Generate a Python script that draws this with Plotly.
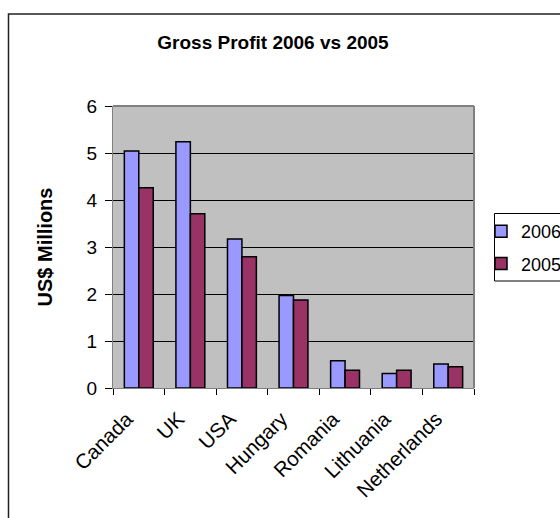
import plotly.graph_objects as go

countries = ["Canada", "UK", "USA", "Hungary", "Romania", "Lithuania", "Netherlands"]
profit_2006 = [5.04, 5.24, 3.17, 1.97, 0.58, 0.31, 0.51]
profit_2005 = [4.26, 3.71, 2.79, 1.87, 0.38, 0.38, 0.45]
y_ticks = [0, 1, 2, 3, 4, 5, 6]

W, H = 560, 518
L, R, T, B = 113, 474, 106, 388  # plot area in pixels
pw, ph = R - L, B - T


def px_x(x):
    return (x - L) / pw


def px_y(y):
    return (B - y) / ph


font = dict(family="Liberation Sans, Arial, sans-serif", color="black")

fig = go.Figure()
fig.add_trace(go.Bar(
    name="2006", x=countries, y=profit_2006, legendgroup="a",
    marker=dict(color="#9999FF", line=dict(color="black", width=1.5)),
))
fig.add_trace(go.Bar(
    name="2005", x=countries, y=profit_2005, legendgroup="b",
    marker=dict(color="#993366", line=dict(color="black", width=1.5)),
))

fig.update_layout(
    width=W, height=H,
    margin=dict(l=L, r=W - R, t=T, b=H - B, pad=0, autoexpand=False),
    paper_bgcolor="white",
    plot_bgcolor="#C0C0C0",
    barmode="group",
    bargap=0.44,
    bargroupgap=0,
    font=dict(size=19, **font),
    title=dict(
        text="<b>Gross Profit 2006 vs 2005</b>",
        x=px_x(273), xref="paper", xanchor="center",
        y=1 - 42 / H, yref="container", yanchor="middle",
        font=dict(size=19, **font),
    ),
    legend=dict(
        x=px_x(481), y=px_y(213), xanchor="left", yanchor="top",
        bgcolor="rgba(0,0,0,0)", borderwidth=0,
        font=dict(size=18, **font),
        tracegroupgap=6,
    ),
    showlegend=True,
)

fig.update_xaxes(
    type="category",
    tickson="boundaries",
    ticks="outside", ticklen=6, tickcolor="black", tickwidth=1,
    tickangle=-45,
    ticklabelshift=-12, ticklabelstandoff=10,
    showline=True, linecolor="#808080", linewidth=1,
    showgrid=False,
    tickfont=dict(size=20.5, **font),
)
fig.update_yaxes(
    range=[0, 6],
    tickvals=y_ticks,
    ticks="outside", ticklen=7, tickcolor="black", tickwidth=1,
    ticklabelstandoff=4,
    showline=True, linecolor="#808080", linewidth=1,
    showgrid=True, gridcolor="black", gridwidth=1,
    zeroline=False,
    tickfont=dict(size=19, **font),
    title=dict(text="<b>US$ Millions</b>", font=dict(size=20, **font), standoff=28),
)

# gray plot-area frame (top and right edges)
fig.add_shape(type="line", xref="paper", yref="paper",
              x0=0, x1=1, y0=1, y1=1, line=dict(color="#808080", width=2))
fig.add_shape(type="line", xref="paper", yref="paper",
              x0=1, x1=1, y0=0, y1=1, line=dict(color="#808080", width=2))

# legend frame
fig.add_shape(type="rect", xref="paper", yref="paper",
              x0=px_x(494.5), x1=px_x(600), y0=px_y(281), y1=px_y(213.5),
              line=dict(color="black", width=1), fillcolor="white", layer="below")

# outer chart border
fig.add_shape(type="rect", xref="paper", yref="paper",
              x0=px_x(8.5), x1=px_x(580), y0=px_y(540), y1=px_y(14),
              line=dict(color="#222222", width=1.5), layer="below")

fig.write_html("out.html")
